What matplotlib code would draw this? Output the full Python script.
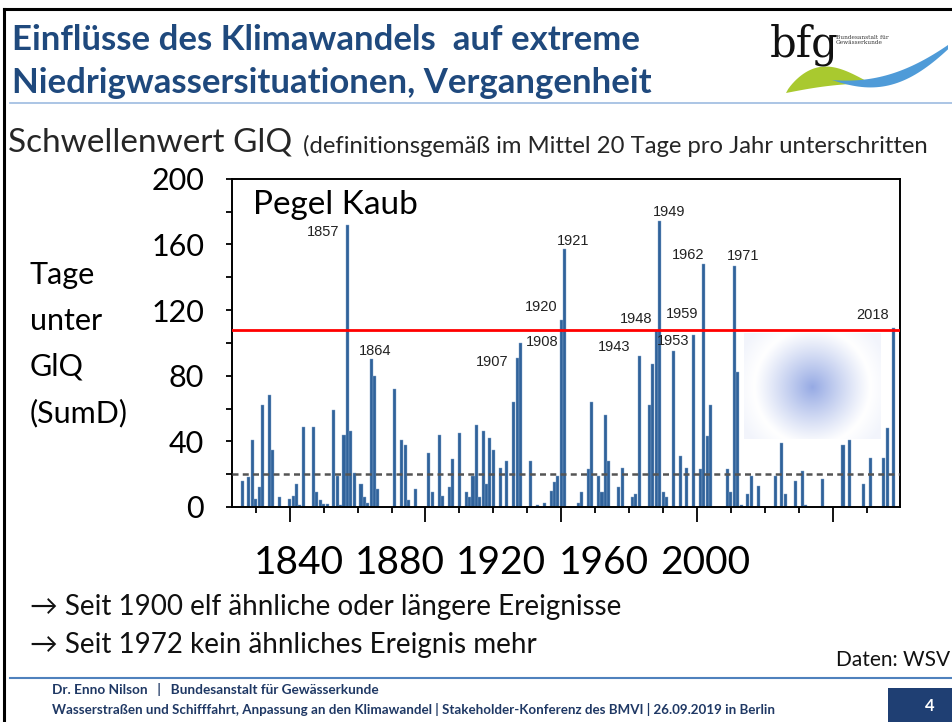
import numpy as np
import matplotlib
matplotlib.use("Agg")
import matplotlib.pyplot as plt
from matplotlib.patches import Rectangle, Polygon

# Tage unter GlQ je Jahr, Pegel Kaub (Jahre ohne Balken = 0)
years = [1826, 1828, 1829, 1830, 1831, 1832, 1834, 1835, 1837, 1840,
         1841, 1842, 1843, 1844, 1847, 1848, 1849, 1850, 1851, 1853,
         1854, 1855, 1856, 1857, 1858, 1859, 1861, 1862, 1863, 1864,
         1865, 1866, 1871, 1873, 1874, 1875, 1877, 1881, 1882, 1884,
         1885, 1887, 1888, 1890, 1892, 1893, 1894, 1895, 1896, 1897,
         1898, 1899, 1900, 1902, 1904, 1906, 1907, 1908, 1911, 1913,
         1915, 1917, 1918, 1919, 1920, 1921, 1925, 1926, 1928, 1929,
         1931, 1932, 1933, 1934, 1937, 1938, 1941, 1942, 1943, 1946,
         1947, 1948, 1949, 1950, 1951, 1953, 1955, 1957, 1959, 1961,
         1962, 1963, 1964, 1969, 1970, 1971, 1972, 1973, 1975, 1976,
         1978, 1983, 1985, 1986, 1989, 1991, 1992, 1997, 2003, 2005,
         2009, 2011, 2015, 2016, 2018]
days = [16, 18, 41, 5, 12, 62, 68, 35, 6, 5,
        7, 14, 1, 49, 49, 9, 4, 2, 2, 59,
        19, 1, 44, 172, 46, 21, 14, 6, 2.5, 90,
        80, 11, 72, 41, 38, 4, 11, 33, 9, 44,
        7, 12, 29, 45, 9, 6, 19, 50, 6, 46,
        14, 42, 35, 24, 28, 64, 91, 100, 28, 1,
        2.5, 10, 15, 19, 114, 157, 2.5, 9, 23, 64,
        19, 9, 56, 28, 12, 24, 6, 8, 92, 62,
        87, 107, 174, 9, 6, 95, 31, 24, 105, 23,
        148, 43, 62, 23, 9, 147, 82, 1, 8, 19,
        13, 19, 39, 8, 16, 22, 1, 17, 38, 41,
        14, 30, 30, 48, 109]

glq_mean = 20        # definitionsgemaess 20 Tage pro Jahr
level_2018 = 108     # rote Linie

marked_years = ["1857", "1864", "1907", "1908", "1920", "1921", "1943",
                "1948", "1949", "1953", "1959", "1962", "1971", "2018"]
label_pos = [(1849.8, 167.5), (1865.3, 95), (1899.6, 88.3), (1914.3, 100.5),
             (1914, 121.8), (1923.4, 162), (1935.5, 97.5), (1942, 114.5),
             (1951.7, 179.7), (1952.9, 101.1), (1955.6, 117.6), (1957.3, 153.5),
             (1973.5, 152.9), (2011.8, 117)]

y_ticks = [0, 40, 80, 120, 160, 200]
x_labels = ["1840", "1880", "1920", "1960", "2000"]

W, H = 952, 722
def fx(px):
    return px / W
def fy(py):
    return 1 - py / H

plt.rcParams['font.family'] = ['Lato', 'DejaVu Sans']
navy = '#1f497d'

fig = plt.figure(figsize=(9.52, 7.22), dpi=100)

# slide frame
fig.add_artist(plt.Line2D([fx(4), fx(4)], [0, fy(9)], color='black', lw=2.2))
fig.add_artist(plt.Line2D([fx(4), 1], [fy(9), fy(9)], color='black', lw=2.2))
fig.add_artist(plt.Line2D([fx(10), 1], [fy(103), fy(103)], color='#9dbbe0', lw=1.2))
fig.add_artist(plt.Line2D([fx(10), 1], [fy(678), fy(678)], color='#4f81bd', lw=1.5))

fig.text(fx(12), fy(40), "Einflüsse des Klimawandels  auf extreme", fontsize=25,
         fontweight='bold', color=navy, va='center')
fig.text(fx(12), fy(83), "Niedrigwassersituationen, Vergangenheit", fontsize=25,
         fontweight='bold', color=navy, va='center')

fig.text(fx(8), fy(143), "Schwellenwert GlQ", fontsize=24, color='#262626', va='center')
fig.text(fx(303), fy(146), "(definitionsgemäß im Mittel 20 Tage pro Jahr unterschritten",
         fontsize=17.2, color='#262626', va='center')

# logo
lg = fig.add_axes([fx(765), fy(100), 187 / W, 92 / H])
lg.set_xlim(765, 952)
lg.set_ylim(100, 8)
lg.axis('off')
lg.text(770, 45, "bfg", fontsize=30, family='DejaVu Serif', va='center', color='#111111')
lg.text(836, 40, "Bundesanstalt für\nGewässerkunde", fontsize=4.2, family='DejaVu Serif',
        va='center', color='#333333', linespacing=1.1)
t = np.linspace(0, 1, 40)
gx_top = 786 + 84 * t
gy_top = 93 - 22 * np.sin(np.pi * t ** 0.8) - 10 * t
gx_bot = 786 + 84 * t[::-1]
gy_bot = 93 - 10 * t[::-1] - 2 * np.sin(np.pi * t[::-1])
lg.add_patch(Polygon(np.c_[np.r_[gx_top, gx_bot], np.r_[gy_top, gy_bot]],
                     closed=True, color='#a9c92f', lw=0))
bx_low = 832 + 116 * t
by_low = 80 + 14 * np.sin(np.pi * t * 0.9) - 35 * t ** 2
bx_up = 832 + 116 * t[::-1]
by_up = 80 + 3 * np.sin(np.pi * t[::-1]) - 35 * t[::-1] ** 2
lg.add_patch(Polygon(np.c_[np.r_[bx_low, bx_up], np.r_[by_low, by_up]],
                     closed=True, color='#4f9bd8', lw=0))

# chart
ax = fig.add_axes([fx(232), fy(507), (900 - 232) / W, (507 - 178.7) / H])
ax.bar(years, days, width=0.9, color='#30629a', edgecolor='#86a6cc', linewidth=0.3, zorder=2)
ax.axhline(level_2018, color='#ff0000', lw=2, zorder=3)
ax.axhline(glq_mean, color='#555555', lw=1.8, ls=(0, (2.4, 1.7)), zorder=3)
ax.set_xlim(1823, 2019.8)
ax.set_ylim(0, 200)

ax.set_xticks(range(1840, 2020, 40))
ax.set_xticks(range(1830, 2020, 10), minor=True)
ax.set_xticklabels([])
ax.set_yticks(y_ticks)
ax.set_yticks(range(0, 201, 20), minor=True)
ax.set_yticklabels([str(v) for v in y_ticks], fontsize=22)
ax.tick_params(axis='x', which='major', length=11, width=1.3, direction='out')
ax.tick_params(axis='x', which='minor', length=4.5, width=1.3, direction='out')
ax.tick_params(axis='y', which='both', length=4, width=1.3, direction='out', pad=16)
for s in ax.spines.values():
    s.set_linewidth(1.4)

for lab, (x, y) in zip(marked_years, label_pos):
    ax.text(x, y, lab, fontsize=10.5, family='Liberation Sans', color='#222222',
            ha='center', va='center', zorder=4)
ax.text(0.031, 0.92, "Pegel Kaub", transform=ax.transAxes, fontsize=24, va='center')

# x labels as placed on the slide
for lab, px in zip(x_labels, [299, 400, 501, 604, 705]):
    fig.text(fx(px), fy(563), lab, fontsize=28, ha='center', va='center')

for i, line in enumerate(["Tage", "unter", "GlQ", "(SumD)"]):
    fig.text(fx(30), fy(275 + 46 * i), line, fontsize=22, va='center')

# blurred picture in the chart
gw, gh = 137, 106
xx, yy = np.meshgrid(np.arange(gw), np.arange(gh))
r = np.hypot(xx - 68, yy - 54) / 58.0
f = np.where(r < 1, (1 - r) ** 1.1, np.clip((r - 1) / 0.35, 0, 1) * 0.12)
c0 = np.array([150, 170, 228]) / 255.0
img = 1 - (1 - c0)[None, None, :] * f[:, :, None]
gi = fig.add_axes([fx(744), fy(439), gw / W, gh / H])
gi.imshow(img, aspect='auto', interpolation='bilinear')
gi.axis('off')

fig.text(fx(30), fy(607), "→ Seit 1900 elf ähnliche oder längere Ereignisse", fontsize=20,
         color='#111111', va='center')
fig.text(fx(30), fy(645), "→ Seit 1972 kein ähnliches Ereignis mehr", fontsize=20,
         color='#111111', va='center')
fig.text(fx(950), fy(660), "Daten: WSV", fontsize=15, color='#111111', va='center', ha='right')

fig.text(fx(52), fy(690), "Dr. Enno Nilson   |   Bundesanstalt für Gewässerkunde", fontsize=9.8,
         fontweight='bold', color='#1f3864', va='center')
fig.text(fx(52), fy(710), "Wasserstraßen und Schifffahrt, Anpassung an den Klimawandel | "
         "Stakeholder-Konferenz des BMVI | 26.09.2019 in Berlin", fontsize=9.6,
         fontweight='bold', color='#1f3864', va='center')
fig.add_artist(Rectangle((fx(888), 0), 1 - fx(888), fy(688), color='#1f3f73', lw=0))
fig.text(fx(930), fy(706), "4", fontsize=12, fontweight='bold', color='white',
         ha='center', va='center')

fig.savefig("out.png", dpi=100)
